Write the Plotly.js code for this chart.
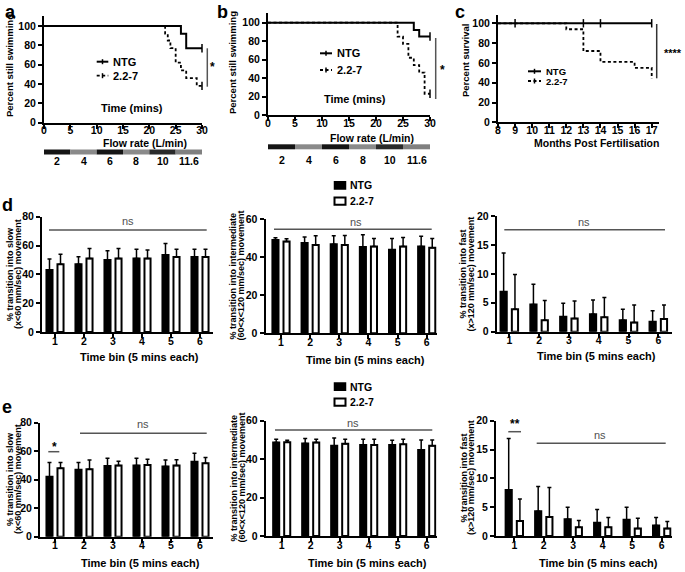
<!DOCTYPE html>
<html><head><meta charset="utf-8">
<script src="https://cdn.plot.ly/plotly-3.0.1.min.js"></script>
<style>html,body{margin:0;padding:0;background:#fff}#chart{width:685px;height:572px}</style>
</head><body><div id="chart"></div><script>
// ---------------- DATA ----------------
const timeTicks = [0, 5, 10, 15, 20, 25, 30];
const pctTicks = [0, 20, 40, 60, 80, 100];
const monthTicks = [8, 9, 10, 11, 12, 13, 14, 15, 16, 17];
const binPos = [1, 2, 3, 4, 5, 6];
const binLabels = ['1', '2', '3', '4', '5', '6'];
const slowTicks = [0, 20, 40, 60, 80];
const midTicks = [0, 20, 40, 60];
const fastTicks = [0, 5, 10, 15, 20];
const flowLabels = ['2', '4', '6', '8', '10', '11.6'];
const flowStart = [0, 5, 10, 15, 20, 25];
const flowEnd = [5, 10, 15, 20, 25, 30];
const groupNames = ['NTG', '2.2-7'];

// panel a (swim tunnel, cohort 1)
const aNtgTime = [0, 26, 27, 30];
const aNtgPct = [100, 92, 77, 77];
const aTgTime = [0, 23, 23.5, 24, 25, 26, 27, 29, 30];
const aTgPct = [100, 92, 85, 77, 62, 54, 46, 38, 38];
const aCensorTime = [30, 30];
const aCensorPct = [77, 38];
// panel b (swim tunnel, cohort 2)
const bNtgTime = [0, 27, 28, 30];
const bNtgPct = [100, 92, 85, 85];
const bTgTime = [0, 24, 25, 26, 27, 28, 29, 30];
const bTgPct = [100, 85, 77, 62, 54, 46, 23, 23];
const bCensorTime = [30, 30];
const bCensorPct = [85, 23];
// panel c (survival)
const cNtgMonth = [8, 17];
const cNtgPct = [100, 100];
const cNtgCensorMonth = [9, 13, 14, 17];
const cNtgCensorPct = [100, 100, 100, 100];
const cTgMonth = [8, 12, 13, 14, 16, 17];
const cTgPct = [100, 94, 72, 61, 55, 44];

// panel d (cohort 1) mean and SD
const dSlowNtg = [43, 47, 50, 51, 53.5, 52];
const dSlowNtgSd = [7.7, 5.3, 6.5, 6.4, 8, 5.4];
const dSlowTg = [47, 51, 51, 51, 52, 52];
const dSlowTgSd = [7, 7, 7, 6, 5.4, 5.4];
const dMidNtg = [49, 47.4, 46.8, 45.3, 43.8, 45.6];
const dMidNtgSd = [1.2, 3.1, 4.4, 6.4, 6, 5.3];
const dMidTg = [48.2, 46.3, 46.3, 45.6, 45.6, 44.9];
const dMidTgSd = [1.4, 4.9, 5, 4.2, 4.7, 4.9];
const dFastNtg = [6.9, 4.7, 2.6, 3.0, 2.0, 1.7];
const dFastNtgSd = [6.7, 3.5, 2.3, 2.5, 1.9, 1.9];
const dFastTg = [3.9, 2.0, 2.3, 2.5, 1.6, 2.2];
const dFastTgSd = [6, 3.4, 3, 3.4, 3, 2.4];
// panel e (cohort 2)
const eSlowNtg = [42, 47, 49.6, 50, 49.2, 52.6];
const eSlowNtgSd = [10, 5, 5.4, 5, 4.6, 6];
const eSlowTg = [48, 47.3, 50, 50.4, 50, 51.5];
const eSlowTgSd = [4, 6.5, 3, 4, 4, 4];
const eMidNtg = [48.6, 48.2, 47, 47.4, 47.4, 44.8];
const eMidNtgSd = [1.7, 2.5, 4, 2.9, 2.4, 5.2];
const eMidTg = [48.8, 48.6, 48, 47.4, 47.7, 46.9];
const eMidTgSd = [1, 1.7, 2.3, 2.9, 2.6, 3.1];
const eFastNtg = [8.0, 4.3, 2.9, 2.3, 2.8, 1.8];
const eFastNtgSd = [8.9, 4.3, 2.1, 2.3, 2.2, 1.4];
const eFastTg = [2.6, 3.3, 1.5, 1.5, 1.3, 1.3];
const eFastTgSd = [3.8, 5.1, 1.2, 1.7, 1.8, 1.2];

// ---------------- LAYOUT HELPERS ----------------
const W = 685, H = 572;
const FF = 'Liberation Sans, Arial, Helvetica, sans-serif';
const X = p => p / W;
const Y = p => 1 - p / H;
function span(p0, v0, p1, v1, lo, hi) {
  const k = (p1 - p0) / (v1 - v0);
  const a = p0 + (lo - v0) * k, b = p0 + (hi - v0) * k;
  return [Math.min(a, b), Math.max(a, b)];
}
function xdom(p0, v0, p1, v1, lo, hi) { const s = span(p0, v0, p1, v1, lo, hi); return [X(s[0]), X(s[1])]; }
function ydom(p0, v0, p1, v1, lo, hi) { const s = span(p0, v0, p1, v1, lo, hi); return [Y(s[1]), Y(s[0])]; }
const bold = (size) => ({family: FF, size: size, color: '#000', weight: 'bold'});
function axis(extra) {
  return Object.assign({
    showline: true, linecolor: '#000', linewidth: 2, ticks: 'outside', ticklen: 4, tickwidth: 2,
    tickcolor: '#000', showgrid: false, zeroline: false, fixedrange: true, layer: 'above traces',
    tickfont: bold(10.5)
  }, extra);
}
function txt(x, y, text, font, extra) {
  return Object.assign({xref: 'paper', yref: 'paper', x: X(x), y: Y(y), text: text, showarrow: false,
    xanchor: 'center', yanchor: 'middle', font: font || bold(11)}, extra || {});
}
function ln(x0, y0, x1, y1, color, width, dash) {
  return {type: 'line', xref: 'paper', yref: 'paper', x0: X(x0), y0: Y(y0), x1: X(x1), y1: Y(y1),
    line: {color: color || '#000', width: width || 2, dash: dash || 'solid'}};
}
function box(x0, y0, x1, y1, fill, lw) {
  return {type: 'rect', xref: 'paper', yref: 'paper', x0: X(x0), y0: Y(y1), x1: X(x1), y1: Y(y0),
    fillcolor: fill, line: {color: '#000', width: lw}};
}

// ---------------- TRACES ----------------
const traces = [];
const DASH = '3px,2.5px';
function km(x, y, xa, ya, dashed) {
  traces.push({type: 'scatter', mode: 'lines', x: x, y: y, xaxis: xa, yaxis: ya, showlegend: false,
    cliponaxis: false, line: {shape: 'hv', color: '#000', width: dashed ? 1.8 : 2, dash: dashed ? DASH : 'solid'}});
}
function censor(x, y, xa, ya) {
  traces.push({type: 'scatter', mode: 'markers', x: x, y: y, xaxis: xa, yaxis: ya, showlegend: false,
    cliponaxis: false, marker: {symbol: 'line-ns', size: 6, line: {color: '#000', width: 1.5}}});
}
km(aNtgTime, aNtgPct, 'x', 'y', false);
km(aTgTime, aTgPct, 'x', 'y', true);
censor(aCensorTime, aCensorPct, 'x', 'y');
km(bNtgTime, bNtgPct, 'x2', 'y2', false);
km(bTgTime, bTgPct, 'x2', 'y2', true);
censor(bCensorTime, bCensorPct, 'x2', 'y2');
km(cNtgMonth, cNtgPct, 'x3', 'y3', false);
km(cTgMonth, cTgPct, 'x3', 'y3', true);
censor(cNtgCensorMonth, cNtgCensorPct, 'x3', 'y3');

function bars(ntg, ntgSd, tg, tgSd, n) {
  const xa = 'x' + n, ya = 'y' + n;
  const err = (sd) => ({type: 'data', symmetric: false, array: sd, arrayminus: sd.map(() => 0),
    color: '#000', thickness: 1.5, width: 2});
  traces.push({type: 'bar', name: groupNames[0], x: binPos, y: ntg, xaxis: xa, yaxis: ya, showlegend: false,
    marker: {color: '#000', line: {color: '#000', width: 2}}, error_y: err(ntgSd)});
  traces.push({type: 'bar', name: groupNames[1], x: binPos, y: tg, xaxis: xa, yaxis: ya, showlegend: false,
    marker: {color: '#fff', line: {color: '#000', width: 2}}, error_y: err(tgSd)});
}
bars(dSlowNtg, dSlowNtgSd, dSlowTg, dSlowTgSd, 4);
bars(dMidNtg, dMidNtgSd, dMidTg, dMidTgSd, 5);
bars(dFastNtg, dFastNtgSd, dFastTg, dFastTgSd, 6);
bars(eSlowNtg, eSlowNtgSd, eSlowTg, eSlowTgSd, 7);
bars(eMidNtg, eMidNtgSd, eMidTg, eMidTgSd, 8);
bars(eFastNtg, eFastNtgSd, eFastTg, eFastTgSd, 9);

// ---------------- AXES ----------------
const XS = -6;
const layout = {
  width: W, height: H, margin: {l: 0, r: 0, t: 0, b: 0}, paper_bgcolor: '#fff', plot_bgcolor: 'rgba(0,0,0,0)',
  showlegend: false, barmode: 'group', bargap: 0.24, bargroupgap: 0.45,
  font: {family: FF, color: '#000'},
  xaxis: axis({anchor: 'y', domain: xdom(44, 0, 202, 30, 0, 30), range: [0, 30], tickvals: timeTicks, ticklabelstandoff: -7}),
  yaxis: axis({anchor: 'x', domain: ydom(122.5, 0, 26, 100, 0, 110), range: [0, 110], tickvals: pctTicks}),
  xaxis2: axis({anchor: 'y2', domain: xdom(268, 0, 430, 30, 0, 30), range: [0, 30], tickvals: timeTicks, ticklabelstandoff: -7}),
  yaxis2: axis({anchor: 'x2', domain: ydom(115, 0, 22.7, 100, 0, 110), range: [0, 110], tickvals: pctTicks}),
  xaxis3: axis({anchor: 'y3', domain: xdom(498, 8, 651.7, 17, 8, 17.45), range: [8, 17.45], tickvals: monthTicks, ticklabelstandoff: -7}),
  yaxis3: axis({anchor: 'x3', domain: ydom(122.3, 0, 23.3, 100, 0, 108), range: [0, 108], tickvals: pctTicks}),
  xaxis4: axis({anchor: 'y4', domain: xdom(55, 1, 200, 6, 0.55, 6.45), range: [0.55, 6.45], tickvals: binPos, ticktext: binLabels, ticklabelstandoff: XS}),
  yaxis4: axis({anchor: 'x4', domain: ydom(332, 0, 216.8, 80, 0, 80), range: [0, 80], tickvals: slowTicks}),
  xaxis5: axis({anchor: 'y5', domain: xdom(281, 1, 426.7, 6, 0.47, 6.35), range: [0.47, 6.35], tickvals: binPos, ticktext: binLabels, ticklabelstandoff: XS}),
  yaxis5: axis({anchor: 'x5', domain: ydom(333.3, 0, 219, 60, 0, 60), range: [0, 60], tickvals: midTicks}),
  xaxis6: axis({anchor: 'y6', domain: xdom(509.3, 1, 658.3, 6, 0.58, 6.45), range: [0.58, 6.45], tickvals: binPos, ticktext: binLabels, ticklabelstandoff: XS}),
  yaxis6: axis({anchor: 'x6', domain: ydom(331.7, 0, 216, 20, 0, 20), range: [0, 20], tickvals: fastTicks}),
  xaxis7: axis({anchor: 'y7', domain: xdom(55, 1, 200, 6, 0.48, 6.46), range: [0.48, 6.46], tickvals: binPos, ticktext: binLabels, ticklabelstandoff: XS}),
  yaxis7: axis({anchor: 'x7', domain: ydom(536.7, 0, 422.7, 80, 0, 80), range: [0, 80], tickvals: slowTicks}),
  xaxis8: axis({anchor: 'y8', domain: xdom(281.7, 1, 426.7, 6, 0.45, 6.34), range: [0.45, 6.34], tickvals: binPos, ticktext: binLabels, ticklabelstandoff: XS}),
  yaxis8: axis({anchor: 'x8', domain: ydom(536, 0, 420.7, 60, 0, 60), range: [0, 60], tickvals: midTicks}),
  xaxis9: axis({anchor: 'y9', domain: xdom(514.3, 1, 661.7, 6, 0.38, 6.34), range: [0.38, 6.34], tickvals: binPos, ticktext: binLabels, ticklabelstandoff: XS}),
  yaxis9: axis({anchor: 'x9', domain: ydom(536, 0, 420.7, 20, 0, 20), range: [0, 20], tickvals: fastTicks}),
};

// ---------------- SHAPES ----------------
const shapes = [];
const flowFill = ['#151515', '#8a8a8a', '#151515', '#8a8a8a', '#2a2a2a', '#808080'];
flowStart.forEach((s, i) => {
  shapes.push({type: 'rect', xref: 'x', yref: 'paper', x0: s, x1: flowEnd[i], y0: Y(154.5), y1: Y(149.5),
    fillcolor: flowFill[i], line: {width: 0}});
  shapes.push({type: 'rect', xref: 'x2', yref: 'paper', x0: s, x1: flowEnd[i], y0: Y(149.3), y1: Y(144.3),
    fillcolor: flowFill[i], line: {width: 0}});
});
// significance bars a, b, c
shapes.push(ln(207.3, 48.3, 207.3, 86.7, '#555', 1.5));
shapes.push(ln(435.7, 38, 435.7, 99, '#555', 1.5));
shapes.push(ln(656.7, 24, 656.7, 78.3, '#333', 1.5));
// ns / star lines d, e
const NS = '#555555';
shapes.push(ln(49, 230, 206.7, 230, NS, 1.5));
shapes.push(ln(274, 229.3, 431.7, 229.3, NS, 1.5));
shapes.push(ln(504.3, 229.7, 665, 229.7, NS, 1.5));
shapes.push(ln(48.3, 451.7, 59.3, 451.7, NS, 1.5));
shapes.push(ln(80, 433.3, 206.7, 433.3, NS, 1.5));
shapes.push(ln(275, 430, 432.3, 430, NS, 1.5));
shapes.push(ln(508.3, 431.7, 521, 431.7, NS, 1.5));
shapes.push(ln(536.7, 443.3, 665.7, 443.3, NS, 1.5));
// legends for survival curves
function kmLegend(x0, x1, yN, yT) {
  shapes.push(ln(x0, yN, x1, yN, '#000', 2));
  shapes.push(ln((x0 + x1) / 2, yN - 2.5, (x0 + x1) / 2, yN + 2.5, '#000', 1.5));
  shapes.push(ln(x0, yT, x1, yT, '#000', 1.8, DASH));
  shapes.push(ln((x0 + x1) / 2, yT - 2.5, (x0 + x1) / 2, yT + 2.5, '#000', 1.5));
}
kmLegend(96.7, 108.3, 61.7, 75.7);
kmLegend(320, 332, 53.3, 70);
kmLegend(528, 541, 71.3, 81);
// legends for bar charts
shapes.push(box(334.5, 181.7, 345.5, 189, '#000', 1.5));
shapes.push(box(334.5, 197.5, 345.5, 204.7, '#fff', 2));
shapes.push(box(334.5, 383, 345.5, 390.3, '#000', 1.5));
shapes.push(box(334.5, 398.5, 345.5, 405.7, '#fff', 2));
layout.shapes = shapes;

// ---------------- ANNOTATIONS ----------------
const ann = [];
// panel letters
const LF = bold(18);
ann.push(txt(10, 0, 'a', LF, {yanchor: 'top'}), txt(222, 0, 'b', LF, {yanchor: 'top'}),
  txt(460, 0, 'c', LF, {yanchor: 'top'}), txt(7, 193, 'd', LF, {yanchor: 'top'}), txt(7, 395, 'e', LF, {yanchor: 'top'}));
// flow rate labels
flowStart.forEach((s, i) => {
  const mid = (s + flowEnd[i]) / 2;
  ann.push({xref: 'x', yref: 'paper', x: mid, y: Y(161), text: flowLabels[i], showarrow: false,
    xanchor: 'center', yanchor: 'middle', font: bold(10.5)});
  ann.push({xref: 'x2', yref: 'paper', x: mid, y: Y(160), text: flowLabels[i], showarrow: false,
    xanchor: 'center', yanchor: 'middle', font: bold(10.5)});
});
// axis titles top row
const YT = bold(9.5);
ann.push(txt(9, 66, 'Percent still swimming', YT, {textangle: -90}));
ann.push(txt(233, 63, 'Percent still swimming', YT, {textangle: -90}));
ann.push(txt(465, 60, 'Percent survival', YT, {textangle: -90}));
ann.push(txt(131.7, 108.3, 'Time (mins)', bold(11)));
ann.push(txt(355, 99.3, 'Time (mins)', bold(11)));
ann.push(txt(145, 143.3, 'Flow rate (L/min)', bold(10.5)));
ann.push(txt(371.7, 138.3, 'Flow rate (L/min)', bold(10.5)));
ann.push(txt(596, 143.3, 'Months Post Fertilisation', bold(10.5)));
// km legend text
ann.push(txt(111, 61.7, groupNames[0], bold(11), {xanchor: 'left'}));
ann.push(txt(111, 75.7, groupNames[1], bold(11), {xanchor: 'left'}));
ann.push(txt(335, 53.3, groupNames[0], bold(11), {xanchor: 'left'}));
ann.push(txt(335, 70, groupNames[1], bold(11), {xanchor: 'left'}));
ann.push(txt(545, 71, groupNames[0], bold(9.5), {xanchor: 'left', borderpad: 0}));
ann.push(txt(545, 81.3, groupNames[1], bold(9.5), {xanchor: 'left', borderpad: 0}));
// significance stars
ann.push(txt(213, 66.7, '*', bold(12)));
ann.push(txt(442.7, 70, '*', bold(12)));
ann.push(txt(673, 53.3, '****', bold(11)));
// bar legends
ann.push(txt(347.5, 185.3, groupNames[0], bold(10.5), {xanchor: 'left'}));
ann.push(txt(347.5, 201.2, groupNames[1], bold(10.5), {xanchor: 'left'}));
ann.push(txt(347.5, 386.7, groupNames[0], bold(10.5), {xanchor: 'left'}));
ann.push(txt(347.5, 402.2, groupNames[1], bold(10.5), {xanchor: 'left'}));
// ns labels
const nsFont = {family: FF, size: 11, color: '#505050'};
ann.push(txt(128, 221, 'ns', nsFont), txt(355.7, 221.7, 'ns', nsFont), txt(584, 222, 'ns', nsFont),
  txt(143, 424, 'ns', nsFont), txt(353.3, 422.7, 'ns', nsFont), txt(600, 435, 'ns', nsFont));
ann.push(txt(54, 446.5, '*', bold(12)), txt(514.7, 424, '**', bold(12)));
// bar y titles (two lines each)
const yt = bold(9);
function ytitle(x1, x2, yc, l1, l2) {
  ann.push(txt(x1, yc, l1, yt, {textangle: -90}), txt(x2, yc, l2, yt, {textangle: -90}));
}
ytitle(10, 18, 274, '% transition into slow', '(x&lt;60 mm/sec) movement');
ytitle(232.5, 240.5, 276, '% transition into intermediate', '(60&lt;x&lt;120 mm/sec) movement');
ytitle(462.5, 470.5, 274, '% transition into fast', '(x&gt;120 mm/sec) movement');
ytitle(10, 18, 479, '% transition into slow', '(x&lt;60 mm/sec) movement');
ytitle(233.5, 241.5, 478, '% transition into intermediate', '(60&lt;x&lt;120 mm/sec) movement');
ytitle(463.5, 471, 478, '% transition into fast', '(x&gt;120 mm/sec) movement');
// bar x titles
const xt = bold(11);
ann.push(txt(139.5, 357.3, 'Time bin (5 mins each)', xt), txt(366, 360, 'Time bin (5 mins each)', xt),
  txt(596, 356, 'Time bin (5 mins each)', xt), txt(140.7, 563, 'Time bin (5 mins each)', xt),
  txt(367, 563.3, 'Time bin (5 mins each)', xt), txt(598.5, 562.7, 'Time bin (5 mins each)', xt));
layout.annotations = ann;

Plotly.newPlot('chart', traces, layout, {displayModeBar: false, staticPlot: true});
</script></body></html>
